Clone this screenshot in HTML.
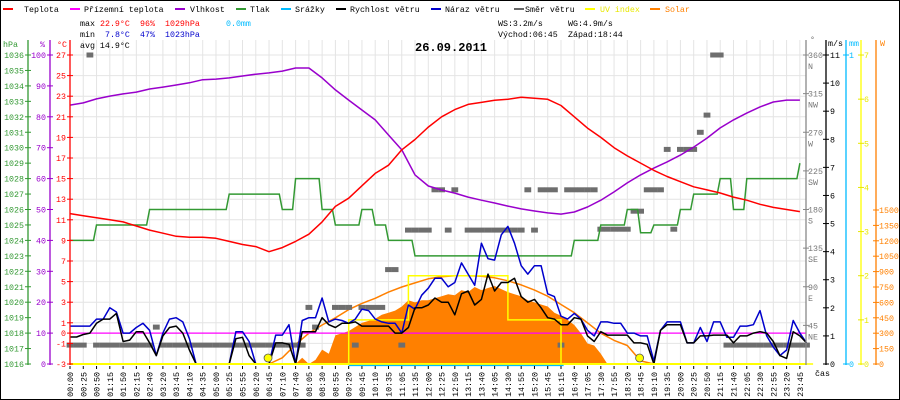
<!DOCTYPE html>
<html><head><meta charset="utf-8"><style>
html,body{margin:0;padding:0;background:#fff}
#wrap{position:relative;width:900px;height:400px;overflow:hidden}
svg text{font-family:"Liberation Mono",monospace;font-size:8.3px}
</style></head><body>
<div id="wrap">
<svg id="chart" width="900" height="400" viewBox="0 0 900 400" xmlns="http://www.w3.org/2000/svg">
<rect x="0.5" y="0.5" width="899" height="399" fill="#fff" stroke="#000"/>
<g id="grid"></g>
<g id="legend">
 <line x1="3" y1="9" x2="13" y2="9" stroke="#ff0000" stroke-width="2"/><text x="24" y="12">Teplota</text>
 <line x1="70" y1="9" x2="80" y2="9" stroke="#ff00ff" stroke-width="2"/><text x="84" y="12">Přízemní teplota</text>
 <line x1="175" y1="9" x2="185" y2="9" stroke="#9900cc" stroke-width="2"/><text x="190" y="12">Vlhkost</text>
 <line x1="236" y1="9" x2="246" y2="9" stroke="#339933" stroke-width="2"/><text x="250" y="12">Tlak</text>
 <line x1="281" y1="9" x2="291" y2="9" stroke="#00bbff" stroke-width="2"/><text x="295" y="12">Srážky</text>
 <line x1="336" y1="9" x2="346" y2="9" stroke="#000" stroke-width="2"/><text x="350" y="12">Rychlost větru</text>
 <line x1="431" y1="9" x2="441" y2="9" stroke="#0000cc" stroke-width="2"/><text x="445" y="12">Náraz větru</text>
 <line x1="514" y1="9" x2="524" y2="9" stroke="#666" stroke-width="2"/><text x="525" y="12">Směr větru</text>
 <line x1="585" y1="9" x2="595" y2="9" stroke="#ffff00" stroke-width="2"/><text x="600" y="12" fill="#e8e800">UV index</text>
 <line x1="650" y1="9" x2="660" y2="9" stroke="#ff8000" stroke-width="2"/><text x="665" y="12" fill="#ff8000">Solar</text>
</g>
<g id="stats">
 <text x="80" y="26">max</text><text x="100" y="26" fill="#ff0000">22.9°C</text><text x="140" y="26" fill="#ff0000">96%</text><text x="165" y="26" fill="#ff0000">1029hPa</text><text x="226" y="26" fill="#00bbff">0.0mm</text>
 <text x="80" y="37">min</text><text x="105" y="37" fill="#0000cc">7.8°C</text><text x="140" y="37" fill="#0000cc">47%</text><text x="165" y="37" fill="#0000cc">1023hPa</text>
 <text x="80" y="48">avg 14.9°C</text>
 <text x="498" y="26">WS:3.2m/s</text><text x="568" y="26">WG:4.9m/s</text>
 <text x="498" y="37">Východ:06:45</text><text x="568" y="37">Západ:18:44</text>
</g>
<text x="415" y="51" style="font-family:'Liberation Mono',monospace;font-size:12px;font-weight:bold">26.09.2011</text>
<g id="series"></g>
<g id="axes"></g>
</svg>
</div>
<script>
// ---------- data ----------
const timeLabels = ["00:00","00:25","00:50","01:15","01:50","02:15","02:40","03:20","03:45","04:10","04:35","05:00","05:25","05:55","06:20","06:45","07:10","07:40","08:05","08:30","08:55","09:20","09:45","10:10","10:35","11:05","11:35","12:00","12:25","12:50","13:15","13:40","14:05","14:30","14:55","15:20","15:45","16:15","16:40","17:05","17:30","17:55","18:20","18:45","19:10","19:35","20:00","20:25","20:50","21:15","21:40","22:05","22:30","22:55","23:20","23:45"];
// per slot (56)
const temperature = [11.6,11.4,11.2,11.0,10.8,10.4,10.0,9.7,9.4,9.3,9.3,9.2,8.9,8.6,8.4,7.9,8.3,8.9,9.6,10.8,12.3,13.1,14.3,15.5,16.3,17.8,18.8,20.0,21.0,21.7,22.2,22.4,22.6,22.7,22.9,22.8,22.7,22.1,21.0,19.9,19.0,18.0,17.2,16.5,15.8,15.2,14.7,14.2,13.9,13.6,13.2,12.9,12.5,12.2,12.0,11.8];
const humidity = [83.8,84.5,85.8,86.7,87.4,88.0,89.0,89.6,90.3,91,92,92.2,92.6,93.2,93.8,94.2,94.8,95.8,95.8,92.6,88.7,85.4,82.2,79,74.1,69.3,61.2,57.6,56.3,55.3,54,53,52.1,51.1,50.2,49.5,48.9,48.5,49.2,50.8,53,55.7,58.6,61.2,63.4,65.4,67.6,70.2,73.1,76.4,79,81.2,83.2,84.8,85.4,85.4];
const pressure = [1024,1024,1025,1025,1025,1025,1026,1026,1026,1026,1026,1026,1027,1027,1027,1027,1026,1028,1028,1026,1025,1025,1026,1025,1024,1024,1023,1023,1023,1023,1023,1023,1023,1023,1023,1023,1023,1023,1024,1024,1025,1025,1026,1024.5,1025,1025,1026,1027,1027,1028,1026,1028,1028,1028,1028,1029];
const groundTemp = 0;
const solarTheory = [0,0,0,0,0,0,0,0,0,0,0,0,0,0,0,0,60,190,300,380,450,530,590,640,700,750,790,830,850,860,860,855,840,810,770,720,660,580,500,400,300,230,180,30,0,0,0,0,0,0,0,0,0,0,0,0];
// per half slot (112)
const windSpeed = [0.96,0.96,1.05,1.1,1.45,1.6,1.6,1.8,0.8,0.85,1.15,1.15,0.75,0.3,1.0,1.3,1.35,1.1,0.5,0,0,0,0,0,0,0.9,0.95,0.3,0,0,0,0.75,0.75,0.7,0,1.15,1.15,1.15,1.65,1.4,1.3,1.45,1.45,1.5,1.35,1.35,1.35,1.35,1.35,1.1,1.1,1.3,2.0,2.0,2.1,2.35,2.2,2.2,1.75,2.5,2.6,2.1,2.3,3.2,2.6,2.9,2.9,3.05,2.4,2.2,2.3,2.0,1.65,1.6,1.4,1.4,1.65,1.6,1.0,0.8,1.15,1.03,1.03,1.03,1.03,0.75,0.75,0.7,0,1.2,1.4,1.4,1.4,0.75,0.75,1.0,1.0,1.03,1.03,1.03,0.75,1.0,1.0,1.1,1.15,1.1,0.8,0.3,0.2,1.15,1.0,0.75];
const windGust = [1.35,1.35,1.35,1.35,1.6,1.6,2.0,1.85,1.1,1.1,1.3,1.45,1.2,0.3,1.1,1.6,1.65,1.5,0.9,0,0,0,0,0,0,1.15,1.15,0.8,0,0,0,1.03,1.03,1.4,0,1.55,1.65,1.65,2.35,1.5,1.6,1.55,1.45,1.6,1.95,1.9,1.6,1.5,1.45,1.45,1.1,2.1,1.95,2.45,2.7,3.05,3.05,2.75,2.9,3.6,3.2,2.8,4.3,3.75,3.7,4.6,4.9,4.3,3.5,3.2,3.5,3.5,2.5,2.4,1.7,1.6,1.8,1.6,1.2,1.0,1.5,1.5,1.45,1.45,1.1,1.1,1.0,1.0,0.1,1.2,1.5,1.5,1.5,0.75,0.75,1.3,0.8,1.5,1.5,0.95,0.95,1.35,1.35,1.4,1.9,1.0,0.6,0.3,0.5,1.55,1.1,0.75];
const solar = [0,0,0,0,0,0,0,0,0,0,0,0,0,0,0,0,0,0,0,0,0,0,0,0,0,0,0,0,0,0,0,0,0,0,0,60,0,40,140,100,280,300,320,360,400,420,440,480,500,520,560,620,600,620,620,640,660,680,670,720,700,750,720,740,760,730,700,680,660,620,600,580,560,500,470,430,380,300,200,180,100,0,0,0,0,0,0,0,0,0,0,0,0,0,0,0,0,0,0,0,0,0,0,0,0,0,0,0,0,0,0,0];
const uvIndex = [0,0,0,0,0,0,0,0,0,0,0,0,0,0,0,0,0,0,0,0,0,0,0,0,0,0,0,0,0,0,0,0,0,0,0,0,0,0,0,0,0,0,1,1,1,1,1,1,1,1,1,2,2,2,2,2,2,2,2,2,2,2,2,2,2,2,1,1,1,1,1,1,1,1,0,0,0,0,0,0,0,0,0,0,0,0,0,0,0,0,0,0,0,0,0,0,0,0,0,0,0,0,0,0,0,0,0,0,0,0,0,0];
const windDir = [22,22,22,360,22,22,22,22,22,22,22,22,22,43,22,22,22,22,22,22,22,22,22,22,22,22,22,22,22,22,22,22,22,22,22,22,66,43,null,null,66,66,66,22,66,66,66,66,110,110,22,156,156,156,156,203,203,156,203,null,156,156,156,156,156,156,156,156,156,203,156,203,203,203,22,203,203,203,203,203,157,157,157,157,157,178,178,203,203,203,250,157,250,250,250,270,290,360,360,22,22,22,22,22,22,22,22,22,22,22,22,22];
const sunEvents = [15, 43]; // slot positions of sunrise / sunset
const pressTicks = [1036,1035,1034,1033,1032,1031,1030,1029,1028,1027,1026,1025,1024,1023,1022,1021,1020,1019,1018,1017,1016];
const humTicks = [100,90,80,70,60,50,40,30,20,10,0];
const tempTicks = [27,25,23,21,19,17,15,13,11,9,7,5,3,1,0,-1,-3];
const dirTicks = [360,315,270,225,180,135,90,45];
const dirNames = ["N","NW","W","SW","S","SE","E","NE"];
const msTicks = [11,10,9,8,7,6,5,4,3,2,1,0];
const uvTicks = [7,6,5,4,3,2,1,0];
const wTicks = [1500,1350,1200,1050,900,750,600,450,300,150,0];

// ---------- scales ----------
const X0 = 70, SLOT = 13.27, XR = 806, YB = 364;
const xSlot = i => X0 + i * SLOT;
const xHalf = k => X0 + k * SLOT / 2;
const yT = t => YB - (t + 3) * 10.3;
const yH = h => YB - h * 3.09;
const yP = p => YB - (p - 1016) * 15.45;
const yW = w => YB - w * 28.09;
const yD = d => YB - d * 0.8583;
const yS = s => YB - s * 0.10267;
const yU = u => YB - u * 44.14;

const NS = "http://www.w3.org/2000/svg";
function mk(tag, attrs, parent) {
  const el = document.createElementNS(NS, tag);
  for (const k in attrs) el.setAttribute(k, attrs[k]);
  parent.appendChild(el);
  return el;
}
const grid = document.getElementById('grid');
const series = document.getElementById('series');
const axes = document.getElementById('axes');

// grid
for (let i = 1; i < timeLabels.length; i++) {
  const l = mk('line', {x1: xSlot(i), y1: 40, x2: xSlot(i), y2: YB, stroke: '#e4e4e4', 'stroke-width': 1}, grid);
  
  
}
tempTicks.forEach(t => {
  if (t === 0) return;
  const l = mk('line', {x1: X0, y1: yT(t), x2: XR, y2: yT(t), stroke: '#e4e4e4', 'stroke-width': 1}, grid);
  
  
});

// solar fill
{
  let d = 'M' + xHalf(0) + ',' + YB;
  solar.forEach((s, k) => { d += ' L' + xHalf(k).toFixed(1) + ',' + yS(s).toFixed(1); });
  d += ' L' + xHalf(solar.length - 1) + ',' + YB + ' Z';
  const p = mk('path', {d: d, fill: '#ff8000', stroke: 'none'}, series);
  
  
}
function poly(vals, xf, yf, color, w, name) {
  const pts = vals.map((v, i) => xf(i).toFixed(1) + ',' + yf(v).toFixed(1)).join(' ');
  const p = mk('polyline', {points: pts, fill: 'none', stroke: color, 'stroke-width': w, 'stroke-linejoin': 'round'}, series);
  
  
  return p;
}
function stepPoly(vals, xf, yf, color, w, name, gap) {
  const pts = [];
  vals.forEach((v, i) => {
    pts.push(xf(i).toFixed(1) + ',' + yf(v).toFixed(1));
    if (i < vals.length - 1) pts.push((xf(i + 1) - gap).toFixed(1) + ',' + yf(v).toFixed(1));
  });
  const p = mk('polyline', {points: pts.join(' '), fill: 'none', stroke: color, 'stroke-width': w}, series);
  
  
}
// theoretical solar line
poly(solarTheory, xSlot, yS, '#ff8000', 1.5, 'solar-theoretical-line');
// ground temperature line
{
  const l = mk('line', {x1: X0, y1: yT(groundTemp), x2: XR, y2: yT(groundTemp), stroke: '#ff00ff', 'stroke-width': 1.3}, series);
  
  
}
// wind direction dashes
windDir.forEach((d, k) => {
  if (d === null) return;
  const r = mk('rect', {x: (xHalf(k) - 3.4).toFixed(1), y: (yD(d) - 2.5).toFixed(1), width: 6.8, height: 5, fill: '#6e6e6e'}, series);
  
  
});
// UV
{
  const pts = [];
  uvIndex.forEach((u, k) => {
    pts.push(xHalf(k).toFixed(1) + ',' + yU(u).toFixed(1));
    pts.push(xHalf(k + 1).toFixed(1) + ',' + yU(u).toFixed(1));
  });
  const p = mk('polyline', {points: pts.join(' '), fill: 'none', stroke: '#ffff00', 'stroke-width': 1.5}, series);
  
  
}
stepPoly(pressure, xSlot, yP, '#339933', 1.5, 'pressure-line', 3);
poly(humidity, xSlot, yH, '#9900cc', 1.5, 'humidity-line');
poly(temperature, xSlot, yT, '#ff0000', 1.5, 'temperature-line');
poly(windGust, xHalf, yW, '#0000cc', 1.5, 'wind-gust-line');
poly(windSpeed, xHalf, yW, '#000000', 1.5, 'wind-speed-line');
// sun events
sunEvents.forEach(s => {
  const c = mk('circle', {cx: xSlot(s) - 1, cy: 358, r: 4, fill: '#ffff00', stroke: '#555', 'stroke-width': 0.8}, series);
  
  
});
// baselines
mk('line', {x1: X0, y1: YB, x2: XR, y2: YB, stroke: '#ffff00', 'stroke-width': 2}, series);
mk('line', {x1: xSlot(21), y1: YB + 1.5, x2: xSlot(37.2), y2: YB + 1.5, stroke: '#00bbff', 'stroke-width': 1.2}, series);

// ---------- axes ----------
function vaxis(x, color, name) {
  const l = mk('line', {x1: x, y1: 40, x2: x, y2: YB + 1, stroke: color, 'stroke-width': 1.3}, axes);
  
  
}
function txt(x, y, s, color, anchor, name) {
  const t = mk('text', {x: x, y: y, fill: color, 'text-anchor': anchor}, axes);
  t.textContent = s;
  
  
  return t;
}
function tick(x, y, color) { mk('line', {x1: x - 3, y1: y, x2: x + 3, y2: y, stroke: color, 'stroke-width': 1}, axes); }
vaxis(28, '#339933', 'pressure-axis');
vaxis(50, '#9900cc', 'humidity-axis');
vaxis(X0, '#ff0000', 'temperature-axis');
txt(3, 47, 'hPa', '#339933', 'start', 'pressure-axis-title');
txt(45, 47, '%', '#9900cc', 'end', 'humidity-axis-title');
txt(67, 47, '°C', '#ff0000', 'end', 'temperature-axis-title');
pressTicks.forEach(p => { tick(28, yP(p), '#339933'); txt(24, yP(p) + 3, String(p), '#339933', 'end', 'pressure-tick-label'); });
humTicks.forEach(h => { tick(50, yH(h), '#9900cc'); txt(46, yH(h) + 3, String(h), '#9900cc', 'end', 'humidity-tick-label'); });
tempTicks.forEach(t => { tick(X0, yT(t), '#ff0000'); txt(66, yT(t) + 3, String(t), '#ff0000', 'end', 'temperature-tick-label'); });

vaxis(XR, '#888', 'wind-direction-axis');
vaxis(826, '#000', 'wind-speed-axis');
vaxis(846, '#00bbff', 'rain-axis');
vaxis(861, '#ffff00', 'uv-axis');
vaxis(876, '#ff8000', 'solar-axis');
txt(810, 42, '°', '#666', 'start', 'wind-direction-axis-title');
txt(828, 46, 'm/s', '#000', 'start', 'wind-speed-axis-title');
txt(849, 46, 'mm', '#00bbff', 'start', 'rain-axis-title');
txt(880, 46, 'W', '#ff8000', 'start', 'solar-axis-title');
dirTicks.forEach((d, i) => {
  tick(XR, yD(d), '#888');
  txt(808, yD(d) + 3, String(d), '#777', 'start', 'direction-tick-label');
  txt(808, yD(d) + 14, dirNames[i], '#777', 'start', 'direction-name-label');
});
msTicks.forEach(m => { tick(826, yW(m), '#000'); txt(830, yW(m) + 3, String(m), '#000', 'start', 'wind-speed-tick-label'); });
tick(846, 55, '#00bbff'); txt(849, 58, '1', '#00bbff', 'start', 'rain-tick-label');
tick(846, YB, '#00bbff'); txt(849, YB + 3, '0', '#00bbff', 'start', 'rain-tick-label');
uvTicks.forEach(u => { tick(861, yU(u), '#e8e800'); txt(864, yU(u) + 3, String(u), '#e8e800', 'start', 'uv-tick-label'); });
wTicks.forEach(w => { tick(876, yS(w), '#ff8000'); txt(879, yS(w) + 3, String(w), '#ff8000', 'start', 'solar-tick-label'); });

// x axis labels
timeLabels.forEach((s, i) => {
  const x = xSlot(i);
  mk('line', {x1: x, y1: YB + 2, x2: x, y2: YB + 5, stroke: '#000', 'stroke-width': 1}, axes);
  const t = mk('text', {x: 0, y: 0, fill: '#000', 'text-anchor': 'end', transform: 'translate(' + (x + 3) + ',372) rotate(-90)'}, axes);
  t.textContent = s;
  
  
});
txt(815, 376, 'čas', '#000', 'start', 'x-axis-title');
</script>
</body></html>
